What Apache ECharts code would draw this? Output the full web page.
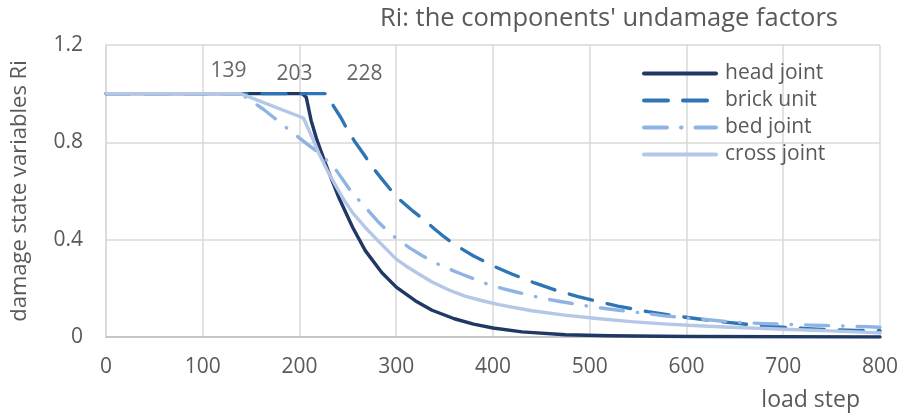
<!DOCTYPE html>
<html>
<head>
<meta charset="utf-8">
<script src="https://cdn.jsdelivr.net/npm/echarts@6/dist/echarts.min.js"></script>
<style>
  html, body { margin: 0; padding: 0; background: #ffffff; }
  #chart { width: 901px; height: 419px; }
</style>
</head>
<body>
<div id="chart"></div>
<script>
// Damage state variable Ri per component, sampled as [load step, Ri]
const headJoint = [
  [0, 1], [203, 1], [207, 0.985], [212, 0.89], [218, 0.81], [223, 0.755], [230, 0.68],
  [241, 0.57], [255, 0.45], [268, 0.355], [285, 0.265], [300, 0.205], [320, 0.148],
  [337, 0.11], [360, 0.075], [380, 0.053], [400, 0.037], [430, 0.021], [475, 0.009],
  [520, 0.005], [600, 0.002], [700, 0.001], [800, 0]
];
const brickUnit = [
  [0, 1], [228, 1], [235, 0.95], [243, 0.9], [250, 0.848], [258, 0.798], [267, 0.748],
  [275, 0.7], [285, 0.65], [294, 0.606], [304, 0.563], [318, 0.515], [330, 0.477],
  [339, 0.446], [350, 0.41], [363, 0.373], [380, 0.333], [402, 0.289], [420, 0.258],
  [443, 0.222], [465, 0.192], [488, 0.166], [510, 0.144], [529, 0.127], [560, 0.104],
  [590, 0.086], [619, 0.071], [640, 0.061], [663, 0.052], [685, 0.044], [707, 0.038],
  [730, 0.033], [752, 0.03], [775, 0.027], [800, 0.026]
];
const bedJoint = [
  [0, 1], [139, 1], [163, 0.935], [174, 0.9], [196, 0.83], [207, 0.796], [219, 0.76],
  [230, 0.72], [238, 0.685], [245, 0.645], [253, 0.6], [263, 0.555], [272, 0.515],
  [281, 0.475], [292, 0.432], [303, 0.396], [315, 0.363], [327, 0.334], [340, 0.305],
  [353, 0.282], [366, 0.261], [381, 0.238], [395, 0.216], [410, 0.199], [423, 0.186],
  [438, 0.171], [454, 0.157], [468, 0.147], [483, 0.137], [498, 0.127], [514, 0.118],
  [528, 0.111], [543, 0.104], [558, 0.097], [577, 0.087], [590, 0.082], [604, 0.077],
  [620, 0.072], [635, 0.066], [650, 0.061], [665, 0.058], [680, 0.055], [697, 0.053],
  [713, 0.051], [728, 0.049], [744, 0.047], [765, 0.045], [788, 0.042], [800, 0.04]
];
const crossJoint = [
  [0, 1], [139, 1], [204, 0.9], [212, 0.83], [220, 0.755], [228, 0.69], [238, 0.618],
  [246, 0.563], [255, 0.51], [268, 0.45], [282, 0.392], [300, 0.32], [310, 0.292],
  [322, 0.262], [337, 0.226], [355, 0.192], [371, 0.168], [390, 0.148], [406, 0.133],
  [440, 0.108], [474, 0.09], [510, 0.075], [543, 0.063], [580, 0.053], [612, 0.046],
  [645, 0.04], [680, 0.035], [715, 0.03], [749, 0.025], [775, 0.021], [800, 0.017]
];
// Load steps at which damage begins (annotated above the curves)
const onsetSteps = [139, 203, 228];
const onsetLabelShift = [[-12, -23], [-8, -20], [38, -20]];

const xTicks = { min: 0, max: 800, interval: 100 };
const yTicks = { min: 0, max: 1.2, interval: 0.4 };

const FONT = '"Open Sans", "Liberation Sans", sans-serif';
const TEXT = '#595959';

const chart = echarts.init(document.getElementById('chart'), null, { renderer: 'canvas' });

function lineSeries(name, data, color, type) {
  return {
    name: name,
    type: 'line',
    data: data,
    showSymbol: false,
    symbol: 'none',
    smooth: false,
    lineStyle: { color: color, width: 3.4, type: type, cap: 'round', join: 'round' },
    itemStyle: { color: color },
    z: 3
  };
}

chart.setOption({
  animation: false,
  backgroundColor: '#ffffff',
  title: {
    text: "Ri: the components' undamage factors",
    right: 58,
    top: 1,
    textStyle: { fontFamily: FONT, fontSize: 25.5, fontWeight: 'normal', color: TEXT }
  },
  legend: {
    orient: 'vertical',
    left: 637,
    top: 58,
    itemWidth: 72,
    itemHeight: 14,
    itemGap: 6,
    itemStyle: { opacity: 0 },
    lineStyle: { width: 4, cap: 'round' },
    data: ['head joint', 'brick unit', 'bed joint', 'cross joint'],
    textStyle: { fontFamily: FONT, fontSize: 21, color: TEXT, lineHeight: 21, padding: [0, 0, 0, 4] }
  },
  grid: { left: 106, right: 18, top: 45, bottom: 82, containLabel: false },
  xAxis: {
    type: 'value',
    min: xTicks.min, max: xTicks.max, interval: xTicks.interval,
    name: 'load step',
    nameLocation: 'end',
    nameGap: 0,
    nameTextStyle: {
      fontFamily: FONT, fontSize: 23, color: TEXT,
      align: 'right', verticalAlign: 'top', padding: [52, 20, 0, 0]
    },
    axisLine: { show: true, lineStyle: { color: '#bfbfbf', width: 1.5 } },
    axisTick: { show: false },
    axisLabel: { fontFamily: FONT, fontSize: 21, color: TEXT, margin: 20 },
    splitLine: { show: true, lineStyle: { color: '#d9d9d9', width: 1.5 } }
  },
  yAxis: {
    type: 'value',
    min: yTicks.min, max: yTicks.max, interval: yTicks.interval,
    name: 'damage state variables Ri',
    nameLocation: 'middle',
    nameGap: 75,
    nameTextStyle: { fontFamily: FONT, fontSize: 22, color: TEXT },
    axisLine: { show: true, lineStyle: { color: '#d9d9d9', width: 1.5 } },
    axisTick: { show: false },
    axisLabel: {
      fontFamily: FONT, fontSize: 21, color: TEXT, margin: 23,
      formatter: v => (v === 0 ? '0' : v.toFixed(1))
    },
    splitLine: { show: true, lineStyle: { color: '#d9d9d9', width: 1.5 } }
  },
  series: [
    lineSeries('head joint', headJoint, '#203864', 'solid'),
    lineSeries('brick unit', brickUnit, '#2e75b6', [24, 15]),
    lineSeries('bed joint', bedJoint, '#8fb4e3', [23, 14, 0.5, 14]),
    lineSeries('cross joint', crossJoint, '#b4c7e7', 'solid'),
    {
      name: 'onset',
      type: 'scatter',
      symbolSize: 0,
      data: onsetSteps.map((s, i) => ({
        value: [s, 1],
        label: { offset: onsetLabelShift[i] }
      })),
      label: {
        show: true,
        position: 'inside',
        formatter: p => String(p.value[0]),
        fontFamily: FONT, fontSize: 21, color: '#404040'
      },
      silent: true,
      z: 5
    }
  ]
});
</script>
</body>
</html>
